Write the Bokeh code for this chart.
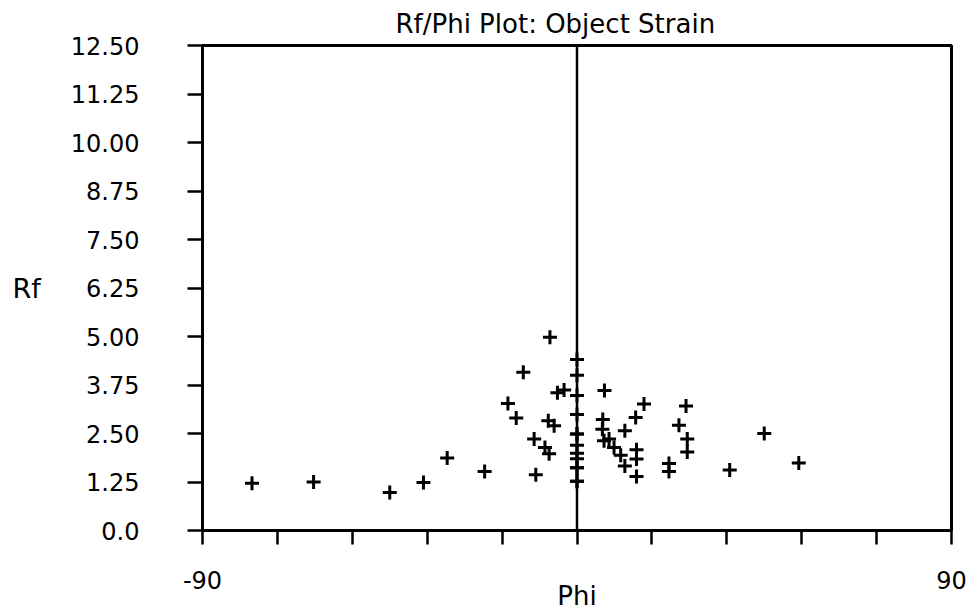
from bokeh.plotting import figure
from bokeh.models import Range1d, FixedTicker, Span
from bokeh.embed import file_html
from bokeh.resources import INLINE

# ---- data ----
phi = [-78.1, -63.3, -45.0, -36.9, -31.2, -22.2, -16.6, -14.6, -12.9, -10.3,
       -7.7, -6.7, -9.9, -6.5, -6.9, -5.5, -4.7, -3.1,
       0, 0, 0, 0, 0, 0, 0, 0, 0, 0, 0, 0, 0,
       6.6, 6.2, 6.1, 6.5, 7.7, 8.9, 10.5, 11.5, 11.5, 14.1, 16.1, 14.3, 14.3, 14.3,
       22.1, 22.1, 24.5, 26.2, 26.5, 26.5, 36.7, 45.0, 53.3]
rf = [1.22, 1.25, 0.98, 1.24, 1.87, 1.52, 3.27, 2.90, 4.08, 2.36,
      2.14, 1.98, 1.44, 4.98, 2.83, 2.70, 3.55, 3.62,
      4.41, 4.00, 3.48, 2.99, 2.49, 2.49, 2.20, 1.99, 1.85, 1.62, 1.62, 1.27, 1.27,
      3.61, 2.86, 2.61, 2.31, 2.36, 2.14, 1.94, 1.66, 2.57, 2.91, 3.26, 2.08, 1.84, 1.39,
      1.73, 1.52, 2.71, 3.21, 2.36, 2.02, 1.56, 2.50, 1.74]

x_ticks = [-90, -72, -54, -36, -18, 0, 18, 36, 54, 72, 90]
x_tick_labels = {-90: "-90", 90: "90"}
y_ticks = [0, 1.25, 2.5, 3.75, 5.0, 6.25, 7.5, 8.75, 10.0, 11.25, 12.5]
y_tick_labels = ["0.0", "1.25", "2.50", "3.75", "5.00", "6.25", "7.50",
                 "8.75", "10.00", "11.25", "12.50"]
x_min, x_max = -90, 90
y_min, y_max = 0, 12.5
title = "Rf/Phi Plot: Object Strain"
x_title = "Phi"
y_title = "Rf"

FONT = "DejaVu Sans"
W, H = 975, 613
LEFT, RIGHT, TOP, BOTTOM = 202, 951, 45, 530   # frame box in pixels

p = figure(width=W, height=H, output_backend="svg", toolbar_location=None,
           x_range=Range1d(x_min, x_max), y_range=Range1d(y_min, y_max),
           min_border_left=LEFT, min_border_right=W - RIGHT, min_border_top=TOP,
           min_border_bottom=H - BOTTOM, title=title)
p.title.text_font = FONT
p.title.text_font_size = "26px"
p.title.text_font_style = "normal"
p.title.text_color = "black"
p.title.align = "left"
p.title.offset = 193
p.title.vertical_align = "top"
p.title.standoff = 10

p.xgrid.visible = False
p.ygrid.visible = False
p.outline_line_color = "black"
p.outline_line_width = 3
p.outline_line_alpha = 1

for ax in (p.xaxis[0], p.yaxis[0]):
    ax.axis_line_width = 3
    ax.axis_line_color = "black"
    ax.major_tick_line_width = 2.5
    ax.major_tick_line_color = "black"
    ax.major_tick_in = 0
    ax.minor_tick_line_color = None
    ax.major_label_text_font = FONT
    ax.major_label_text_color = "black"
    ax.axis_label_text_font = FONT
    ax.axis_label_text_font_style = "normal"
    ax.axis_label_text_color = "black"

xa = p.xaxis[0]
xa.ticker = FixedTicker(ticks=x_ticks)
xa.major_tick_out = 14
xa.major_label_overrides = {t: x_tick_labels.get(t, "") for t in x_ticks}
xa.major_label_text_font_size = "24px"
xa.major_label_standoff = 26
xa.axis_label = x_title
xa.axis_label_text_font_size = "26px"
xa.axis_label_standoff = -11

ya = p.yaxis[0]
ya.ticker = FixedTicker(ticks=y_ticks)
ya.major_tick_out = 15
ya.major_label_overrides = {t: s for t, s in zip(y_ticks, y_tick_labels)}
ya.major_label_text_font_size = "24px"
ya.major_label_standoff = 48
ya.axis_label = y_title
ya.axis_label_orientation = "horizontal"
ya.axis_label_text_font_size = "27px"
ya.axis_label_standoff = 27

p.add_layout(Span(location=0, dimension="height", line_color="black", line_width=2.5))

p.scatter(phi, rf, marker="cross", size=14, line_width=3, line_color="black")

open("out.html", "w").write(file_html(p, INLINE))
